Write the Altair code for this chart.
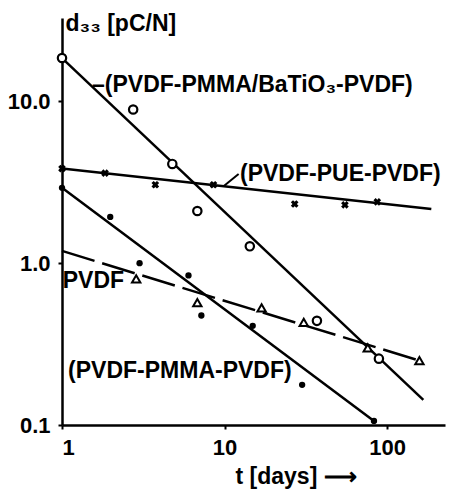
import altair as alt
import pandas as pd

FONT = "Liberation Sans"

# ---- data (t in days, d33 in pC/N) ----
bt_t = [1, 2.74, 4.77, 6.8, 14.3, 37, 89]
bt_d = [18.5, 8.9, 4.1, 2.1, 1.27, 0.44, 0.257]
bt_fit_t = [1, 167]
bt_fit_d = [18.5, 0.143]

pue_t = [1, 1.84, 3.75, 8.55, 27, 55, 87]
pue_d = [3.84, 3.6, 3.05, 3.05, 2.32, 2.29, 2.39]
pue_fit_t = [1, 187]
pue_fit_d = [3.84, 2.16]

pvdf_t = [2.86, 6.8, 16.9, 30.7, 76, 158]
pvdf_d = [0.8, 0.57, 0.53, 0.43, 0.3, 0.25]
pvdf_fit_t = [1, 158]
pvdf_fit_d = [1.19, 0.25]

pmma_t = [1, 1.98, 3.0, 6.0, 7.2, 14.9, 30, 83]
pmma_d = [2.92, 1.93, 1.0, 0.84, 0.475, 0.41, 0.177, 0.106]
pmma_fit_t = [1, 83]
pmma_fit_d = [2.92, 0.106]

label_text = ["\u2013(PVDF-PMMA/BaTiO\u2083-PVDF)", "(PVDF-PUE-PVDF)", "PVDF", "(PVDF-PMMA-PVDF)"]
label_t = [1.53, 12.45, 1.01, 1.09]
label_d = [11.4, 3.2, 0.705, 0.195]

leader_t = [9.9, 12.2]
leader_d = [3.0, 3.55]

x_ticks = [1, 10, 100]
y_ticks = [0.1, 1, 10]

xs = alt.Scale(type="log", domain=[1, 227], nice=False)
ys = alt.Scale(type="log", domain=[0.1, 32.7], nice=False)

xax = alt.Axis(values=x_ticks, format="~g", title="t [days] \u27f6", titleAngle=0,
               titleAlign="left", titleBaseline="alphabetic", titleX=173, titleY=58,
               labelPadding=8, tickSize=4, grid=False)
yax = alt.Axis(values=y_ticks, labelExpr="format(datum.value, '.1f')",
               title="d\u2083\u2083 [pC/N]", titleAngle=0, titleAlign="left",
               titleBaseline="alphabetic", titleX=3, titleY=12,
               labelPadding=8, tickSize=4, grid=False)


def df(t, d):
    return pd.DataFrame({"t": t, "d": d})


def enc(ch, axes=False):
    if axes:
        return ch.encode(x=alt.X("t:Q", scale=xs, axis=xax), y=alt.Y("d:Q", scale=ys, axis=yax))
    return ch.encode(x=alt.X("t:Q", scale=xs), y=alt.Y("d:Q", scale=ys))


line_style = dict(color="black", strokeWidth=2.5)

l1 = enc(alt.Chart(df(bt_fit_t, bt_fit_d)).mark_line(**line_style), axes=True)
l2 = enc(alt.Chart(df(pue_fit_t, pue_fit_d)).mark_line(**line_style))
l3 = enc(alt.Chart(df(pvdf_fit_t, pvdf_fit_d)).mark_line(strokeDash=[34, 8], **line_style))
l4 = enc(alt.Chart(df(pmma_fit_t, pmma_fit_d)).mark_line(**line_style))
lead = enc(alt.Chart(df(leader_t, leader_d)).mark_line(color="black", strokeWidth=2))

p1 = enc(alt.Chart(df(bt_t, bt_d)).mark_point(shape="circle", filled=True, fill="white",
                                               stroke="black", strokeWidth=2.2, size=70, opacity=1))
p2 = enc(alt.Chart(df(pue_t, pue_d)).mark_point(shape="cross", angle=45, filled=True,
                                                color="black", size=60, opacity=1))
p3 = enc(alt.Chart(df(pvdf_t, pvdf_d)).mark_point(shape="triangle-up", filled=True, fill="white",
                                                  stroke="black", strokeWidth=2, size=70, opacity=1))
p4 = enc(alt.Chart(df(pmma_t, pmma_d)).mark_circle(color="black", size=40, opacity=1))

txt = alt.Chart(pd.DataFrame({"t": label_t, "d": label_d, "txt": label_text})).mark_text(
    align="left", baseline="alphabetic", font=FONT, fontWeight="bold", fontSize=23, color="black"
).encode(x=alt.X("t:Q", scale=xs), y=alt.Y("d:Q", scale=ys), text="txt:N")

chart = alt.layer(l1, l2, l3, l4, lead, p1, p2, p3, p4, txt).properties(
    width=383, height=407,
    autosize=alt.AutoSizeParams(type="none"),
    padding={"left": 62, "top": 18, "right": 10, "bottom": 65},
    background="white",
).configure_view(stroke=None).configure_axis(
    domainColor="black", domainWidth=2.5, tickColor="black", tickWidth=2,
    labelColor="black", labelFont=FONT, labelFontWeight="bold", labelFontSize=22,
    titleColor="black", titleFont=FONT, titleFontWeight="bold", titleFontSize=23,
)

chart.save("out.html", embed_options={"renderer": "svg", "actions": False})
